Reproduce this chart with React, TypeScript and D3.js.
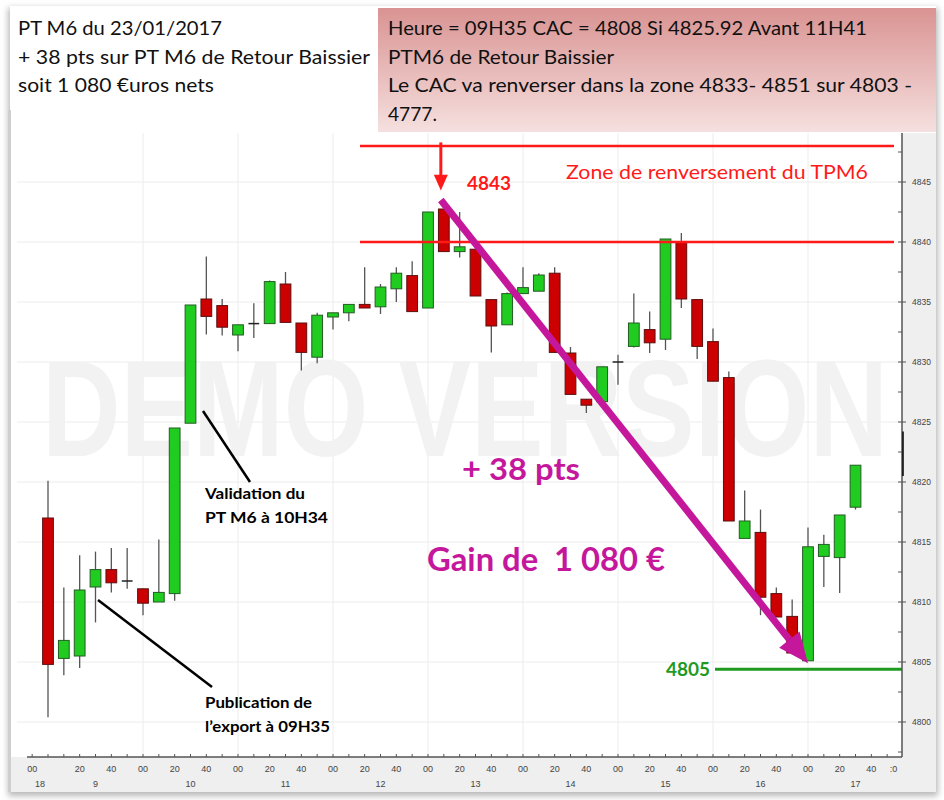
import React from "react";
import * as d3 from "d3";

// ---- data (10-minute candles, CAC 40, 23/01/2017) ----
const times = [
  "09:00","09:10","09:20","09:30","09:40","09:50",
  "10:00","10:10","10:20","10:30","10:40","10:50",
  "11:00","11:10","11:20","11:30","11:40","11:50",
  "12:00","12:10","12:20","12:30","12:40","12:50",
  "13:00","13:10","13:20","13:30","13:40","13:50",
  "14:00","14:10","14:20","14:30","14:40","14:50",
  "15:00","15:10","15:20","15:30","15:40","15:50",
  "16:00","16:10","16:20","16:30","16:40","16:50",
  "17:00","17:10","17:20","17:30",
];
const opens = [
  4817.0, 4805.3, 4805.5, 4811.25, 4812.7, 4811.75,
  4811.1, 4810.0, 4810.7, 4824.9, 4835.25, 4834.7,
  4832.25, 4833.2, 4833.2, 4836.5, 4833.25, 4830.4,
  4833.75, 4834.1, 4834.8, 4834.6, 4836.1, 4837.2,
  4834.5, 4842.75, 4839.2, 4839.4, 4835.2, 4833.1,
  4835.7, 4835.9, 4837.4, 4830.75, 4826.9, 4826.7,
  4830.0, 4831.3, 4832.7, 4831.9, 4840.0, 4835.2,
  4831.7, 4828.7, 4815.3, 4815.8, 4810.7, 4808.8,
  4805.1, 4813.8, 4813.7, 4817.9,
];
const highs = [
  4820.1, 4811.2, 4813.9, 4814.2, 4814.5, 4814.5,
  4811.1, 4815.2, 4824.5, 4834.75, 4838.8, 4835.25,
  4833.1, 4834.9, 4836.8, 4837.5, 4833.25, 4834.1,
  4834.1, 4834.8, 4837.9, 4836.5, 4837.9, 4838.4,
  4842.5, 4842.75, 4842.5, 4839.4, 4835.2, 4835.8,
  4837.9, 4837.4, 4837.9, 4831.25, 4826.9, 4829.6,
  4830.6, 4835.7, 4834.2, 4840.25, 4840.75, 4835.2,
  4832.8, 4829.2, 4819.3, 4817.7, 4811.2, 4810.2,
  4816.2, 4815.6, 4817.25, 4821.4,
];
const lows = [
  4800.4, 4803.9, 4804.5, 4808.3, 4810.8, 4811.1,
  4808.9, 4810.0, 4810.1, 4824.9, 4832.3, 4832.2,
  4830.9, 4832.0, 4833.2, 4833.3, 4829.3, 4829.9,
  4832.7, 4833.4, 4834.5, 4834.0, 4835.0, 4834.2,
  4834.5, 4839.2, 4838.7, 4835.5, 4830.8, 4833.1,
  4835.7, 4835.9, 4830.8, 4827.3, 4825.75, 4826.7,
  4828.1, 4831.2, 4830.75, 4831.0, 4834.5, 4830.25,
  4828.4, 4816.75, 4815.3, 4808.9, 4808.75, 4805.75,
  4805.1, 4811.25, 4810.75, 4817.7,
];
const closes = [
  4804.8, 4806.8, 4811.0, 4812.7, 4811.6, 4811.75,
  4809.9, 4810.8, 4824.5, 4834.75, 4833.8, 4832.9,
  4833.1, 4833.2, 4836.7, 4833.3, 4830.8, 4833.9,
  4834.1, 4834.8, 4834.5, 4836.25, 4837.4, 4834.2,
  4842.5, 4839.2, 4839.6, 4835.5, 4833.0, 4835.7,
  4836.2, 4837.25, 4830.8, 4827.3, 4826.4, 4829.6,
  4830.0, 4833.25, 4831.6, 4840.25, 4835.25, 4831.3,
  4828.4, 4816.75, 4816.75, 4810.4, 4808.75, 4805.75,
  4814.6, 4814.8, 4817.25, 4821.4,
];

const priceTicks = [4800, 4805, 4810, 4815, 4820, 4825, 4830, 4835, 4840, 4845];
const hourLabels = ["9", "10", "11", "12", "13", "14", "15", "16", "17"];
const minuteLabels = ["00", "20", "40"];
const prevDayLabel = "18";
const prevDayTime = "08:50";
const lastTickTime = "17:54";
const lastTickLabel = ":0";

const zoneTop = 4848;
const zoneBottom = 4840;
const targetLevel = 4804.4;
const peakTime = "13:10";
const peakValue = 4843.5;
const troughTime = "17:00";
const troughValue = 4804.9;

const leftLines = [
  "PT M6 du 23/01/2017",
  "+ 38 pts sur PT M6 de Retour Baissier",
  "soit 1 080 €uros nets",
];
const leftWidths = [204, 352, 196];
const rightLines = [
  "Heure = 09H35 CAC = 4808 Si 4825.92 Avant 11H41",
  "PTM6 de Retour Baissier",
  "Le CAC va renverser dans la zone 4833- 4851 sur 4803 -",
  "4777.",
];
const rightWidths = [479, 226, 524, 49];

// ---- helpers ----
const toMin = (s: string) => {
  const [h, m] = s.split(":").map(Number);
  return (h - 9) * 60 + m;
};

const W = 944;
const H = 800;
const plot = { left: 17, right: 902, top: 133, bottom: 757 };

export default function App() {
  const x = d3.scaleLinear().domain([0, 60]).range([48, 143]);
  const y = d3.scaleLinear().domain([4800, 4845]).range([722, 182]);
  const step = x(10) - x(0);
  const bw = step * 0.68;

  const candles = times.map((t, i) => ({
    t, o: opens[i], h: highs[i], l: lows[i], c: closes[i],
  }));

  const minorY = d3.range(4797.5, 4849, 2.5);
  const hourTicksMin = d3.range(1, 9).map((h) => h * 60);

  const xTicks: { m: number; label: string }[] = [
    { m: toMin(prevDayTime), label: "00" },
  ];
  hourLabels.forEach((h, hi) => {
    minuteLabels.forEach((ml, mi) => {
      if (hi === 0 && mi === 0) return;
      xTicks.push({ m: hi * 60 + mi * 20, label: ml });
    });
  });
  xTicks.push({ m: toMin(lastTickTime), label: lastTickLabel });
  const minorX = d3.range(-10, 535, 10);

  const magenta = "#c4179c";
  const red = "#ff1a1a";
  const green = "#1f9a1f";

  // magenta arrow geometry
  const x1 = x(toMin(peakTime)) - 3;
  const y1 = y(peakValue);
  const x2 = x(toMin(troughTime));
  const y2 = y(troughValue);
  const ang = Math.atan2(y2 - y1, x2 - x1);
  const headL = 30;
  const headW = 13;
  const bx = x2 - headL * Math.cos(ang);
  const by = y2 - headL * Math.sin(ang);
  const px = -Math.sin(ang);
  const py = Math.cos(ang);
  const head = `${x2},${y2} ${bx + headW * px},${by + headW * py} ${bx - headW * px},${by - headW * py}`;

  const redX = x(toMin(peakTime)) - 3;
  const txt = "Lato, 'Open Sans', sans-serif";
  const axisFont = "'Liberation Sans', Arial, sans-serif";

  return (
    <div style={{ position: "absolute", left: 0, top: 0 }}>
      <svg width={W} height={H} style={{ display: "block" }}>
        <defs>
          <linearGradient id="pink" x1="0" y1="0" x2="0" y2="1">
            <stop offset="0" stopColor="#d99392" />
            <stop offset="1" stopColor="#f5e0df" />
          </linearGradient>
          <filter id="shadow" x="-5%" y="-5%" width="110%" height="110%">
            <feGaussianBlur stdDeviation="3" />
          </filter>
          <clipPath id="plotclip">
            <rect x={plot.left} y={plot.top} width={plot.right - plot.left} height={plot.bottom - plot.top} />
          </clipPath>
        </defs>
        <rect x={0} y={0} width={W} height={H} fill="#ffffff" />
        {/* frame shadow */}
        <rect x={8} y={8} width={930} height={788} fill="#b8b8b8" filter="url(#shadow)" />
        <rect x={10} y={6} width={926} height={786} fill="#ffffff" />
        <rect x={8} y={110} width={3} height={682} fill="#cfcfcf" />

        {/* axis backgrounds */}
        <rect x={11} y={plot.bottom} width={925} height={792 - plot.bottom} fill="#efefef" />
        <rect x={plot.right} y={plot.top} width={936 - plot.right} height={792 - plot.top} fill="#efefef" />

        {/* header boxes */}
        <rect x={378} y={8} width={558} height={124} fill="url(#pink)" />
        {leftLines.map((s, i) => (
          <text key={"l" + i} x={18} y={35 + i * 28.5} fontFamily={txt} fontSize={20} fill="#111"
            textLength={leftWidths[i]} lengthAdjust="spacingAndGlyphs">{s}</text>
        ))}
        {rightLines.map((s, i) => (
          <text key={"r" + i} x={388} y={35 + i * 28.5} fontFamily={txt} fontSize={20} fill="#111"
            textLength={rightWidths[i]} lengthAdjust="spacingAndGlyphs">{s}</text>
        ))}

        {/* grid */}
        <g clipPath="url(#plotclip)">
          {priceTicks.map((v) => (
            <line key={"g" + v} x1={plot.left} x2={plot.right} y1={y(v)} y2={y(v)} stroke="#ececec" strokeWidth={1} />
          ))}
          {hourTicksMin.map((m) => (
            <line key={"v" + m} x1={x(m)} x2={x(m)} y1={plot.top} y2={plot.bottom} stroke="#ececec" strokeWidth={1} />
          ))}
        </g>
        {/* watermark */}
        <text x={42} y={456} fontFamily={axisFont} fontWeight="bold" fontSize={138} fill="#f2f2f2"
          textLength={846} lengthAdjust="spacingAndGlyphs">DEMO VERSION</text>

        <g clipPath="url(#plotclip)">
          {/* candles */}
          {candles.map((d, i) => {
            const cx = x(toMin(d.t));
            const up = d.c >= d.o;
            const top = y(Math.max(d.o, d.c));
            const bot = y(Math.min(d.o, d.c));
            const doji = Math.abs(d.c - d.o) < 0.1;
            return (
              <g key={"c" + i}>
                <line x1={cx} x2={cx} y1={y(d.h)} y2={y(d.l)} stroke="#555" strokeWidth={1.3} />
                {doji ? (
                  <line x1={cx - bw / 2} x2={cx + bw / 2} y1={top} y2={top} stroke="#222" strokeWidth={1.5} />
                ) : (
                  <rect x={cx - bw / 2} y={top} width={bw} height={Math.max(bot - top, 1)}
                    fill={up ? "#1fcc1f" : "#cc0000"} stroke={up ? "#245c24" : "#5c1010"} strokeWidth={1} />
                )}
              </g>
            );
          })}

          {/* zone lines */}
          <line x1={360} x2={894} y1={y(zoneTop)} y2={y(zoneTop)} stroke={red} strokeWidth={2.5} />
          <line x1={360} x2={894} y1={y(zoneBottom)} y2={y(zoneBottom)} stroke={red} strokeWidth={2.5} />
          <line x1={715} x2={plot.right} y1={y(targetLevel)} y2={y(targetLevel)} stroke={green} strokeWidth={3} />

          {/* red arrow */}
          <line x1={redX} x2={redX} y1={y(4848.3)} y2={y(4845.2)} stroke={red} strokeWidth={3} />
          <polygon points={`${redX},${y(4844.3)} ${redX - 7},${y(4845.6)} ${redX + 7},${y(4845.6)}`} fill={red} />

          {/* magenta arrow */}
          <line x1={x1} y1={y1} x2={bx} y2={by} stroke={magenta} strokeWidth={7} />
          <polygon points={head} fill={magenta} />
        </g>

        {/* annotations */}
        <text x={467} y={190} fontFamily={txt} fontWeight="bold" fontSize={19} fill={red}>4843</text>
        <text x={566} y={179} fontFamily={txt} fontSize={20} fill={red}
          textLength={302} lengthAdjust="spacingAndGlyphs">Zone de renversement du TPM6</text>
        <text x={666} y={676} fontFamily={txt} fontWeight="bold" fontSize={19} fill={green}>4805</text>
        <text x={462} y={480} fontFamily={txt} fontWeight="bold" fontSize={31} fill={magenta}
          textLength={118} lengthAdjust="spacingAndGlyphs">+ 38 pts</text>
        <text x={427} y={571} fontFamily={txt} fontWeight="bold" fontSize={33} fill={magenta}
          textLength={238} lengthAdjust="spacingAndGlyphs">{"Gain de\u00a0 1\u00a0080 €"}</text>

        <line x1={203} y1={411} x2={250} y2={482} stroke="#000" strokeWidth={2.5} />
        <text x={205} y={499} fontFamily={txt} fontWeight="bold" fontSize={16} fill="#000"
          textLength={100} lengthAdjust="spacingAndGlyphs">Validation du</text>
        <text x={205} y={523} fontFamily={txt} fontWeight="bold" fontSize={16} fill="#000"
          textLength={123} lengthAdjust="spacingAndGlyphs">PT M6 à 10H34</text>
        <line x1={98} y1={600} x2={212} y2={687} stroke="#000" strokeWidth={2.5} />
        <text x={205} y={708} fontFamily={txt} fontWeight="bold" fontSize={16} fill="#000"
          textLength={107} lengthAdjust="spacingAndGlyphs">Publication de</text>
        <text x={205} y={732} fontFamily={txt} fontWeight="bold" fontSize={16} fill="#000"
          textLength={125} lengthAdjust="spacingAndGlyphs">l’export à 09H35</text>

        {/* right axis */}
        <line x1={plot.right} x2={plot.right} y1={plot.top} y2={plot.bottom} stroke="#555" strokeWidth={1.5} />
        {minorY.map((v) => (
          <line key={"my" + v} x1={plot.right - 4} x2={plot.right} y1={y(v)} y2={y(v)} stroke="#555" strokeWidth={1} />
        ))}
        {priceTicks.map((v) => (
          <g key={"py" + v}>
            <line x1={plot.right} x2={plot.right + 4} y1={y(v)} y2={y(v)} stroke="#555" strokeWidth={1} />
            <text x={912} y={y(v)} dy="0.35em" fontFamily={axisFont} fontSize={8.5} fill="#444">{v}</text>
          </g>
        ))}
        <line x1={plot.right + 1} x2={plot.right + 1} y1={y(4824.2)} y2={y(4820.5)} stroke="#000" strokeWidth={1.5} />

        {/* bottom axis */}
        <line x1={plot.left + 10} x2={plot.right} y1={plot.bottom} y2={plot.bottom} stroke="#555" strokeWidth={1.5} />
        {minorX.map((m) => (
          <line key={"mx" + m} x1={x(m)} x2={x(m)} y1={plot.bottom - 3} y2={plot.bottom} stroke="#555" strokeWidth={1} />
        ))}
        {xTicks.map((t, i) => (
          <text key={"xt" + i} x={x(t.m)} y={772} textAnchor="middle" fontFamily={axisFont} fontSize={9} fill="#444">{t.label}</text>
        ))}
        <text x={x(-5)} y={787} textAnchor="middle" fontFamily={axisFont} fontSize={9} fill="#444">{prevDayLabel}</text>
        {hourLabels.map((h, i) => (
          <text key={"hl" + h} x={x(i * 60 + 30)} y={787} textAnchor="middle" fontFamily={axisFont} fontSize={9} fill="#444">{h}</text>
        ))}
      </svg>
    </div>
  );
}
